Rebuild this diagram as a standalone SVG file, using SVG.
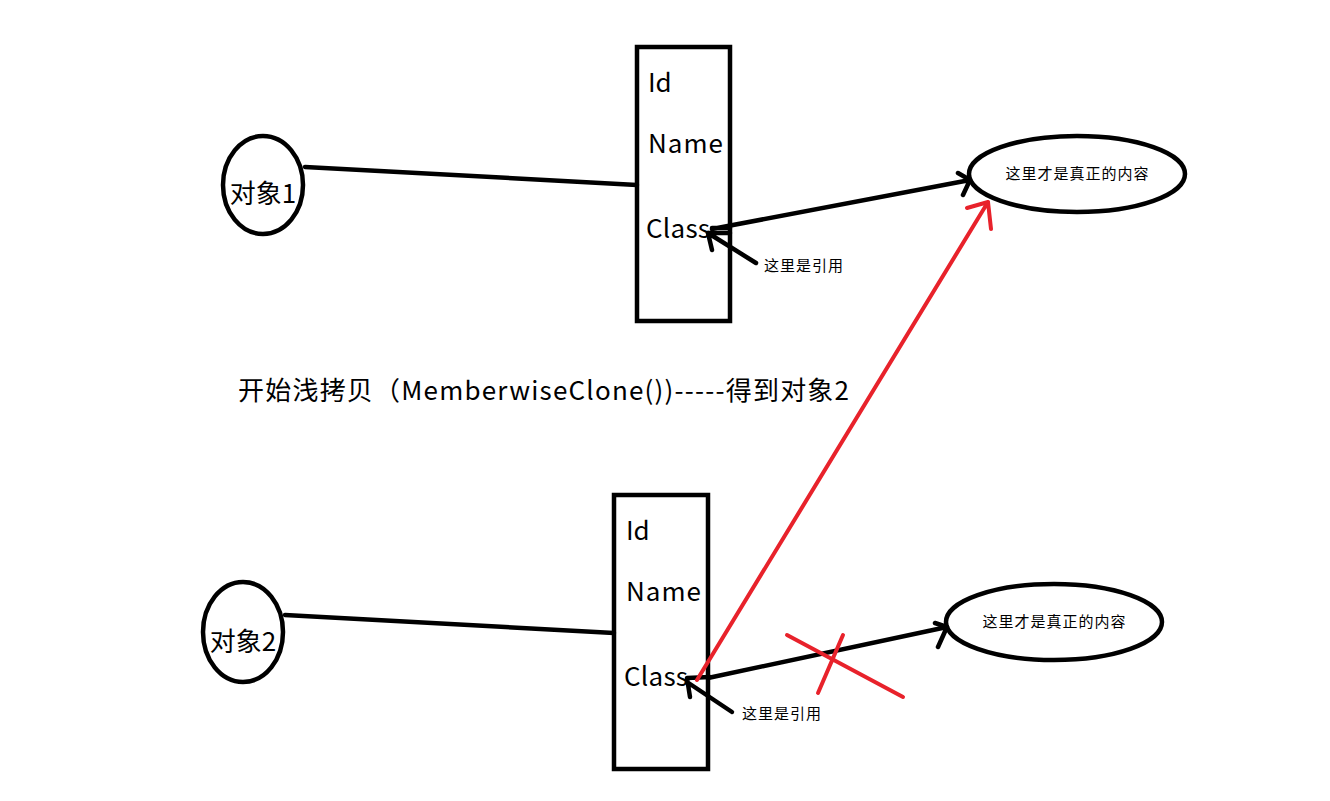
<svg xmlns="http://www.w3.org/2000/svg" width="1330" height="801" viewBox="0 0 1330 801">
<style>
.s{fill:none;stroke:#000;stroke-width:4.5;stroke-linecap:round;stroke-linejoin:round}
.r{fill:none;stroke:#e8222b;stroke-width:4;stroke-linecap:round;stroke-linejoin:round}
.box{fill:#fff;stroke:#000;stroke-width:4.5}
.t{font-family:"Noto Sans CJK SC","Noto Sans",sans-serif;fill:#000}
.big{font-size:26px}
.sm{font-size:15px}
</style>
<rect width="1330" height="801" fill="#fff"/>
<g id="obj1">
<ellipse class="box" cx="263" cy="185" rx="40" ry="49"/>
<text class="t big" x="263" y="203" text-anchor="middle">对象1</text>
</g>
<g id="rect1">
<rect class="box" x="637" y="47" width="93" height="274"/>
<text class="t big" x="648" y="92">Id</text>
<text class="t big" x="648" y="153" textLength="75">Name</text>
<text class="t big" x="646" y="238" textLength="64">Class</text>
</g>
<g id="content1">
<ellipse class="box" cx="1077" cy="174" rx="108" ry="38"/>
<text class="t sm" x="1077" y="179" text-anchor="middle" textLength="143">这里才是真正的内容</text>
</g>
<g id="ref1">
<text class="t sm" x="764" y="271" textLength="79">这里是引用</text>
</g>
<g id="title">
<text class="t big" x="238" y="400" textLength="611">开始浅拷贝（MemberwiseClone())-----得到对象2</text>
</g>
<g id="obj2">
<ellipse class="box" cx="243" cy="632" rx="40" ry="50"/>
<text class="t big" x="243" y="651" text-anchor="middle">对象2</text>
</g>
<g id="rect2">
<rect class="box" x="614" y="495" width="94" height="274"/>
<text class="t big" x="626" y="540">Id</text>
<text class="t big" x="626" y="601" textLength="75">Name</text>
<text class="t big" x="624" y="686" textLength="64">Class</text>
</g>
<g id="content2">
<ellipse class="box" cx="1054" cy="622" rx="108" ry="38"/>
<text class="t sm" x="1054" y="627" text-anchor="middle" textLength="143">这里才是真正的内容</text>
</g>
<g id="ref2">
<text class="t sm" x="742" y="719" textLength="79">这里是引用</text>
</g>
<g id="connectors">
<line class="s" x1="305" y1="167" x2="637" y2="185"/>
<line class="s" x1="285" y1="615" x2="614" y2="633"/>
<path class="s" d="M712 228 L730 228 M712 229 L970 180 M958 173 L970 180 L963 195"/>
<path class="s" d="M756 263 L708 233 M730 233 L708 233 L712 250"/>
<path class="s" d="M708 678 L947 627 M935 623 L947 627 L938 647"/>
<path class="s" d="M732 712 L687 682 M710 677 L687 678 L690 697"/>
<path class="r" d="M697 680 L988 202 M967 208 L988 202 L991 229"/>
<path class="r" d="M787 635 L903 697 M843 635 L818 693"/>
</g>
</svg>
